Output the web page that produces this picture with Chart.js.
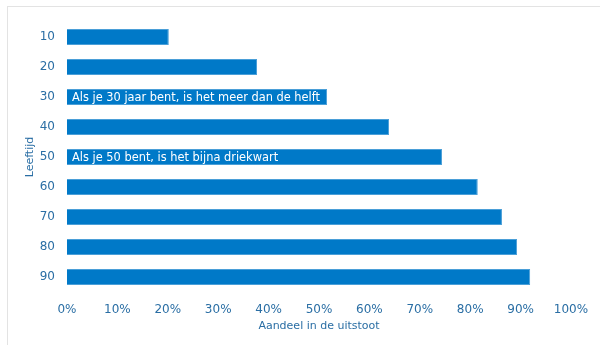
<!DOCTYPE html>
<html>
<head>
<meta charset="utf-8">
<script src="https://cdn.jsdelivr.net/npm/chart.js@4.4.0/dist/chart.umd.min.js"></script>
<style>
  html, body { margin: 0; padding: 0; background: #fff; }
  #wrap { position: relative; width: 600px; height: 345px; overflow: hidden; }
  #panel { position: absolute; left: 7px; top: 6px; width: 620px; height: 360px;
           border-left: 1px solid #e3e3e3; border-top: 1px solid #e3e3e3; }
  canvas { position: absolute; left: 0; top: 0; }
</style>
</head>
<body>
<div id="wrap">
  <div id="panel"></div>
  <canvas id="chart" width="600" height="345"></canvas>
</div>
<script>
// leeftijden en aandeel in de uitstoot (in %)
const leeftijden = ['10', '20', '30', '40', '50', '60', '70', '80', '90'];
const aandeel = [20.2, 37.7, 51.6, 63.9, 74.4, 81.5, 86.3, 89.3, 91.9];
// teksten in de balken
const notities = [
  { rij: 2, tekst: 'Als je 30 jaar bent, is het meer dan de helft' },
  { rij: 4, tekst: 'Als je 50 bent, is het bijna driekwart' }
];

const blauw = '#0079c8';
const tekstKleur = '#2a6ea4';
const lettertype = '"DejaVu Sans", Verdana, sans-serif';

// tekst in de balken tekenen
const balkTekst = {
  id: 'balkTekst',
  afterDatasetsDraw(chart) {
    const { ctx, scales: { x, y } } = chart;
    ctx.save();
    ctx.font = '11.4px ' + lettertype;
    ctx.fillStyle = '#ffffff';
    ctx.textBaseline = 'middle';
    ctx.textAlign = 'left';
    notities.forEach(n => {
      ctx.fillText(n.tekst, x.getPixelForValue(0) + 5, y.getPixelForValue(n.rij) + 1);
    });
    ctx.restore();
  }
};

new Chart(document.getElementById('chart'), {
  type: 'bar',
  data: {
    labels: leeftijden,
    datasets: [{
      data: aandeel,
      backgroundColor: blauw,
      borderColor: '#4a9fd8',
      borderWidth: 1,
      categoryPercentage: 1,
      barPercentage: 0.53
    }]
  },
  options: {
    indexAxis: 'y',
    responsive: false,
    animation: false,
    layout: { padding: { left: 0, right: 29, top: 22, bottom: 0 } },
    plugins: { legend: { display: false }, tooltip: { enabled: false } },
    scales: {
      x: {
        min: 0, max: 100,
        border: { display: false },
        grid: { display: false },
        ticks: {
          stepSize: 10, padding: 3, color: tekstKleur,
          font: { family: lettertype, size: 12 },
          callback: v => v + '%'
        },
        title: {
          display: true, text: 'Aandeel in de uitstoot', color: tekstKleur,
          font: { family: lettertype, size: 11 }, padding: { top: 0, bottom: 12 }
        },
        afterFit: s => { s.height = 53; }
      },
      y: {
        border: { display: false },
        grid: { display: false },
        ticks: { padding: 4, color: tekstKleur, font: { family: lettertype, size: 12 } },
        title: {
          display: true, text: 'Leeftijd', color: tekstKleur,
          font: { family: lettertype, size: 11 }, padding: { top: 24, bottom: 0 }
        },
        afterFit: s => { s.width = 67; }
      }
    }
  },
  plugins: [balkTekst]
});
</script>
</body>
</html>
